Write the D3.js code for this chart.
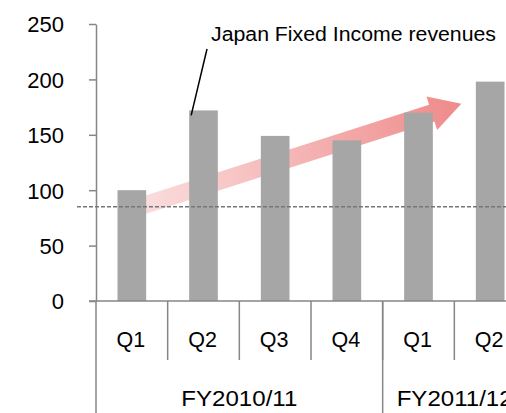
<!DOCTYPE html>
<html>
<head>
<meta charset="utf-8">
<script src="https://cdn.jsdelivr.net/npm/d3@7"></script>
<style>
  html, body { margin: 0; padding: 0; background: #fff; }
  svg { display: block; font-family: "Liberation Sans", Arial, sans-serif; }
</style>
</head>
<body>
<svg id="chart" width="506" height="413"></svg>
<script>
// ---- data ----
const quarters = ["Q1", "Q2", "Q3", "Q4", "Q1", "Q2"];
const fiscalYears = ["FY2010/11", "FY2010/11", "FY2010/11", "FY2010/11", "FY2011/12", "FY2011/12"];
const revenues = [100, 172, 149, 145, 170, 198];
const yTicks = [0, 50, 100, 150, 200, 250];
const referenceLevel = [85];
const annotationText = "Japan Fixed Income revenues";
const trendStartValue = [83];
const trendEndValue = [178];

// ---- layout ----
const svg = d3.select("#chart");
const W = 506, H = 413;
const axisX = 96, topY = 24, baseY = 301;
const idx = d3.range(quarters.length);

const x = d3.scaleBand().domain(idx).range([axisX, axisX + 430]).paddingInner(0.6).paddingOuter(0.3);
const step = x.step();
const bandStart = i => axisX + i * step;
const y = d3.scaleLinear().domain([0, 250]).range([baseY, topY]);

const axisColor = "#868686";

// gradient for trend arrow
const defs = svg.append("defs");
const tail = [x(0) + x.bandwidth() / 2, y(trendStartValue[0])];
const tip = [bandStart(5) + 7, y(trendEndValue[0])];
const grad = defs.append("linearGradient").attr("id", "arrowGrad")
  .attr("gradientUnits", "userSpaceOnUse")
  .attr("x1", tail[0]).attr("y1", tail[1]).attr("x2", tip[0]).attr("y2", tip[1]);
grad.append("stop").attr("offset", 0).attr("stop-color", "#fbe0e0");
grad.append("stop").attr("offset", 1).attr("stop-color", "#ef8a8a");

// trend arrow polygon
(function () {
  const dx = tip[0] - tail[0], dy = tip[1] - tail[1];
  const len = Math.hypot(dx, dy);
  const ux = dx / len, uy = dy / len;
  const px = -uy, py = ux;
  const shaftHalf = 8.8, headHalf = 17.5, headLen = 31;
  const bx = tip[0] - ux * headLen, by = tip[1] - uy * headLen;
  const pts = [
    [tail[0] + px * shaftHalf, tail[1] + py * shaftHalf],
    [bx + px * shaftHalf, by + py * shaftHalf],
    [bx + px * headHalf, by + py * headHalf],
    tip,
    [bx - px * headHalf, by - py * headHalf],
    [bx - px * shaftHalf, by - py * shaftHalf],
    [tail[0] - px * shaftHalf, tail[1] - py * shaftHalf]
  ];
  svg.append("polygon").attr("points", pts.map(p => p.join(",")).join(" "))
    .attr("fill", "url(#arrowGrad)");
})();

// bars
svg.append("g").selectAll("rect").data(idx).join("rect")
  .attr("x", i => x(i))
  .attr("y", i => y(revenues[i]))
  .attr("width", x.bandwidth())
  .attr("height", i => y(0) - y(revenues[i]))
  .attr("fill", "#a6a6a6");

// y axis
const yAxis = d3.axisLeft(y).tickValues(yTicks).tickSize(7).tickSizeOuter(0).tickPadding(25);
const gy = svg.append("g").attr("transform", `translate(${axisX},0)`).call(yAxis);
gy.select(".domain").attr("stroke", axisColor).attr("stroke-width", 1.5);
gy.selectAll(".tick line").attr("stroke", axisColor).attr("stroke-width", 1.5);
gy.selectAll(".tick text").attr("font-size", 22).attr("fill", "#000").attr("dy", "0.36em")
  .attr("font-family", "'Liberation Sans', Arial, sans-serif");

// x axis baseline
svg.append("line").attr("x1", axisX - 7).attr("x2", W).attr("y1", baseY).attr("y2", baseY)
  .attr("stroke", axisColor).attr("stroke-width", 1.5);

// quarter separators
svg.append("g").selectAll("line").data(d3.range(1, quarters.length + 1)).join("line")
  .attr("x1", i => bandStart(i)).attr("x2", i => bandStart(i))
  .attr("y1", baseY).attr("y2", 360)
  .attr("stroke", axisColor).attr("stroke-width", 1.5);

// group separators
const groupStarts = idx.filter(i => i === 0 || fiscalYears[i] !== fiscalYears[i - 1]);
svg.append("g").selectAll("line").data(groupStarts).join("line")
  .attr("x1", i => bandStart(i)).attr("x2", i => bandStart(i))
  .attr("y1", baseY).attr("y2", H)
  .attr("stroke", axisColor).attr("stroke-width", 1.5);

// quarter labels
svg.append("g").selectAll("text").data(idx).join("text")
  .attr("x", i => x(i) + x.bandwidth() / 2 - 1)
  .attr("y", 347)
  .attr("text-anchor", "middle")
  .attr("font-size", 21.5)
  .text(i => quarters[i]);

// fiscal year labels
svg.append("g").selectAll("text").data(groupStarts).join("text")
  .attr("x", (i, k) => {
    const n = fiscalYears.filter(f => f === fiscalYears[i]).length;
    return k === 0 ? bandStart(i) + n * step / 2 : bandStart(i) + 14;
  })
  .attr("text-anchor", (i, k) => k === 0 ? "middle" : "start")
  .attr("y", 405.5)
  .attr("font-size", 21.5)
  .attr("textLength", 116)
  .attr("lengthAdjust", "spacingAndGlyphs")
  .text(i => fiscalYears[i]);

// reference dashed line
svg.append("line").attr("x1", 77).attr("x2", W)
  .attr("y1", y(referenceLevel[0])).attr("y2", y(referenceLevel[0]))
  .attr("stroke", "#767676").attr("stroke-width", 1.6).attr("stroke-dasharray", "4,2");

// annotation
svg.append("line").attr("x1", 207).attr("y1", 49).attr("x2", x(1) + 2).attr("y2", y(revenues[1]) + 5)
  .attr("stroke", "#000").attr("stroke-width", 1.5);
svg.append("text").attr("x", 211).attr("y", 40.7).attr("font-size", 19.5)
  .attr("textLength", 285).attr("lengthAdjust", "spacingAndGlyphs")
  .text(annotationText);
</script>
</body>
</html>
